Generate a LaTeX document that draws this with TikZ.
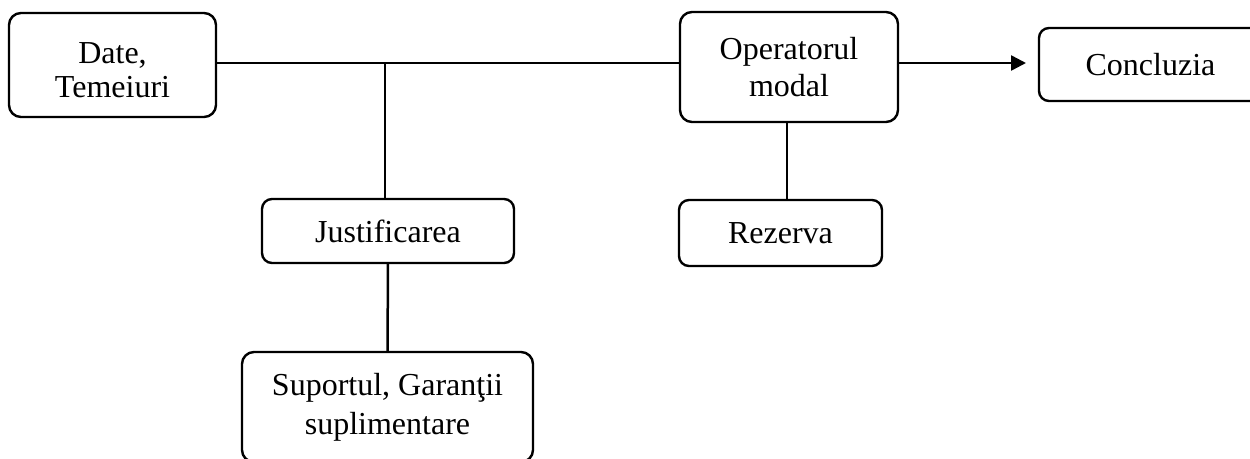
\documentclass[tikz,border=0pt]{standalone}
\usepackage{fontspec}
\setmainfont{Liberation Serif}
\usetikzlibrary{arrows.meta}
\begin{document}
\begin{tikzpicture}[x=1pt,y=-1pt,
  box/.style={draw,line width=2.4pt,rounded corners=12pt,inner sep=0pt,outer sep=0pt,
    align=center,font=\fontsize{32}{37}\selectfont},
  boxtext/.style={inner sep=0pt,align=center,font=\fontsize{32}{34}\selectfont},
  thinline/.style={line width=1.1pt},
  thickline/.style={line width=2.5pt},
]
\clip (0,0) rectangle (1250,458);
\fill[white] (0,0) rectangle (1250,458);
\node[box,minimum width=207pt,minimum height=104pt] (date) at (112.5,65) {};
\node[boxtext] (datetext) at ([yshift=-5pt]date.center) {Date,\\Temeiuri};
\node[box,minimum width=218pt,minimum height=110pt] (op) at (789,67) {Operatorul\\modal};
\node[box,minimum width=223pt,minimum height=73pt,rounded corners=10pt] (concl) at (1150.5,64.5) {Concluzia};
\node[box,minimum width=252pt,minimum height=64pt,rounded corners=10pt] (just) at (388,231) {Justificarea};
\node[box,minimum width=203pt,minimum height=66pt,rounded corners=10pt] (rez) at (780.5,233) {Rezerva};
\node[box,minimum width=291pt,minimum height=110pt,font=\fontsize{32}{39}\selectfont] (sup) at (387.5,407) {Suportul, Garanţii\\suplimentare};
\coordinate (j) at (385,63);
\draw[thickline] (date.east |- j) -- (op.west |- j);
\draw[thinline] (j) -- (j |- just.north);
\draw[thinline] (op.south -| 787,0) -- (rez.north -| 787,0);
\draw[thickline] (just.south) -- (sup.north);
\draw[thickline,-{Triangle[length=15pt,width=15pt]},shorten >=13pt] (op.east |- j) -- (concl.west |- j);
\end{tikzpicture}
\end{document}
